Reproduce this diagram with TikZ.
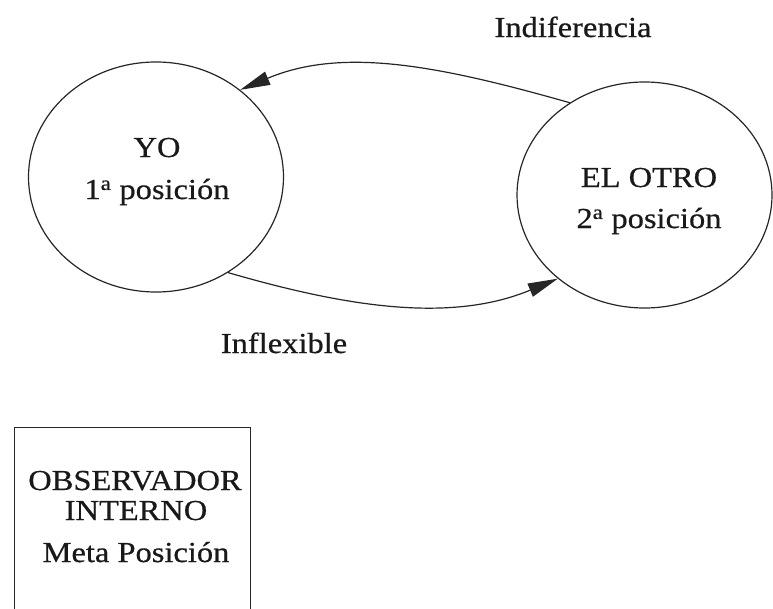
\documentclass[tikz,border=0pt]{standalone}
\usepackage{fontspec}
\setmainfont[FakeStretch=1.12,FakeBold=0.6]{Liberation Serif}
\usetikzlibrary{shapes.geometric,arrows.meta}
\begin{document}
\begin{tikzpicture}[x=1pt,y=-1pt,
  circ/.style={draw=black!85, ellipse, inner sep=0pt, line width=1.2pt},
  txt/.style={font=\fontsize{29}{31}\selectfont, text=black!90, inner sep=0pt, anchor=base},
  conn/.style={draw=black!85, line width=1.2pt, -{Triangle[length=30pt,width=14pt]}},
  boxst/.style={draw=black!85, line width=1.2pt, inner sep=0pt, anchor=north west}
  ]
\useasboundingbox (0,0) rectangle (773,608);
\clip (0,0) rectangle (773,608);
% circles
\node[circ, minimum width=255pt, minimum height=230pt] (yo) at (156,177) {};
\node[circ, minimum width=255pt, minimum height=226pt] (otro) at (644.5,195) {};
% circle texts
\node[txt] (yot) at (157,157) {YO};
\node[txt] (yop) at (157,199) {1\textsuperscript{a} posición};
\node[txt] (otrot) at (649,187) {EL OTRO};
\node[txt] (otrop) at (649,228) {2\textsuperscript{a} posición};
% connectors
\draw[conn] (otro.129.4) .. controls (437,65) and (342,47) .. (yo.46);
\draw[conn] (yo.-53.7) .. controls (345,306.5) and (450,323.5) .. (otro.224.3);
% connector labels
\node[txt] (ind) at (573,37) {Indiferencia};
\node[txt] (infl) at (284,353) {Inflexible};
% observer box
\node[boxst, minimum width=236pt, minimum height=220pt] (box) at (14,427) {};
\node[txt] (b1) at (135,490) {OBSERVADOR};
\node[txt] (b2) at (136,520) {INTERNO};
\node[txt] (b3) at (136,562) {Meta Posición};
\end{tikzpicture}
\end{document}
